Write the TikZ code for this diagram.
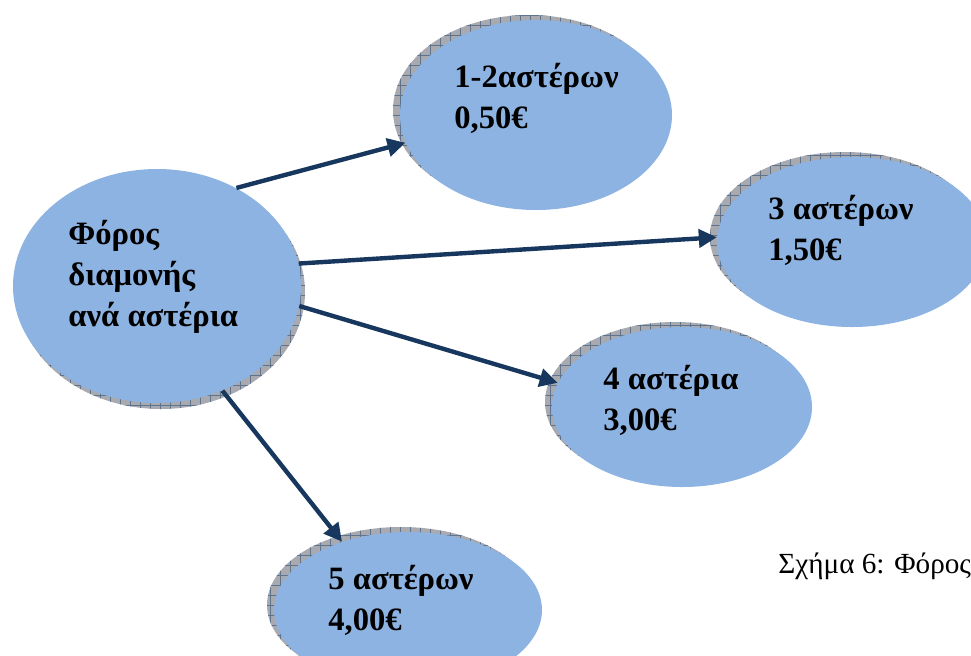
\documentclass[tikz,border=0pt]{standalone}
\usepackage{fontspec}
\setmainfont{Liberation Serif}
\usetikzlibrary{shapes.geometric,shadows,patterns.meta,arrows.meta}

\definecolor{bubblefill}{RGB}{141,179,226}
\definecolor{arrowblue}{RGB}{23,55,94}
\definecolor{shadowgray}{RGB}{168,170,176}

\tikzset{
  bubble/.style={ellipse, fill=bubblefill, inner sep=0pt},
  shadowup/.style={
    general shadow={fill=shadowgray, shadow xshift=-3.5pt, shadow yshift=2.5pt},
    general shadow={pattern={Hatch[angle=0,distance=5pt,line width=.3pt]},
      pattern color=arrowblue!70, shadow xshift=-3.5pt, shadow yshift=2.5pt}},
  shadowdown/.style={
    general shadow={fill=shadowgray, shadow xshift=2pt, shadow yshift=-3pt},
    general shadow={pattern={Hatch[angle=0,distance=5pt,line width=.3pt]},
      pattern color=arrowblue!70, shadow xshift=2pt, shadow yshift=-3pt}},
  bubbletext/.style={anchor=base west, align=left, inner sep=0pt,
    font=\bfseries\fontsize{16.3}{20.5}\selectfont},
  pointer/.style={draw=arrowblue, line width=2.2pt,
    -{Triangle[length=9pt,width=9pt]}}
}

\begin{document}
\begin{tikzpicture}[x=0.5pt,y=-0.5pt]
  \useasboundingbox (0,0) rectangle (971,655);

  \begin{scope}[every node/.style={bubble}]
    \node[shadowdown, minimum width=144pt, minimum height=117pt] (tax) at (157,286) {};
    \node[shadowup, minimum width=136pt, minimum height=95pt] (s12) at (536,115) {};
    \node[shadowup, minimum width=135pt, minimum height=85pt] (s3) at (852,242) {};
    \node[shadowup, minimum width=130pt, minimum height=80pt] (s4) at (682,407) {};
    \node[shadowup, minimum width=134pt, minimum height=78pt] (s5) at (408,610) {};
  \end{scope}

  \begin{scope}[every edge/.style={pointer}]
    \path (tax.51)  edge (s12.192);
    \path (tax.9)   edge (s3.178);
    \path (tax.-8)  edge (s4.169);
    \path (tax.-58) edge (s5.134);
  \end{scope}

  % base anchor sits on the last line
  \begin{scope}[every node/.style={bubbletext}]
    \node (tax-text) at (68,326)  {Φόρος\\διαμονής\\ανά αστέρια};
    \node (s12-text) at (454,128) {1-2αστέρων\\0,50€};
    \node (s3-text)  at (768,260) {3 αστέρων\\1,50€};
    \node (s4-text)  at (603,430) {4 αστέρια\\3,00€};
    \node (s5-text)  at (328,630) {5 αστέρων\\4,00€};
  \end{scope}

  \node[anchor=base west, inner sep=0pt, font=\fontsize{14.6}{17}\selectfont]
    (caption) at (778,573) {Σχήμα 6: Φόρος};

\end{tikzpicture}
\end{document}
